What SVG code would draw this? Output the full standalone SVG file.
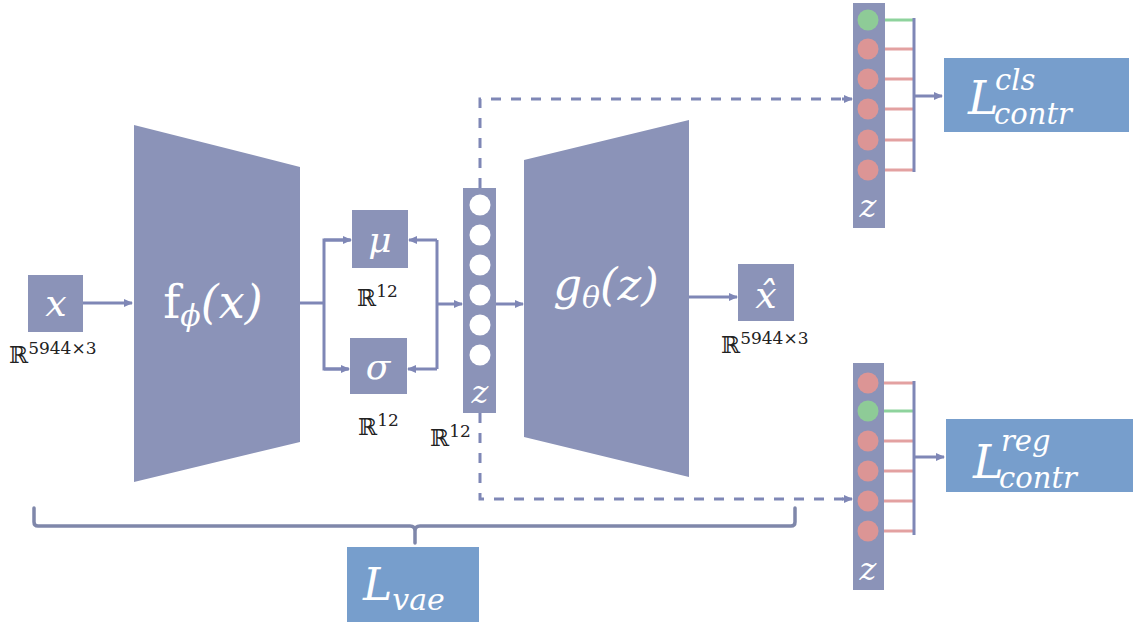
<svg xmlns="http://www.w3.org/2000/svg" width="1133" height="623" viewBox="0 0 1133 623">
<style>
.blk{fill:#8b93b8}
.loss{fill:#779ecc}
.ln{stroke:#7f87b6;stroke-width:3;fill:none}
.dash{stroke:#7f87b6;stroke-width:3;fill:none;stroke-dasharray:10 10}
.m{font-family:"DejaVu Serif","Liberation Serif",serif;font-style:italic;fill:#fff}
.r{font-family:"DejaVu Serif","Liberation Serif",serif;fill:#222}
.wc{fill:#fff}
.pk{fill:#dc9595}
.gr{fill:#8ecb97}
.pl{stroke:#e3a1a1;stroke-width:3}
.gl{stroke:#8ed39d;stroke-width:3}
</style>
<defs>
<marker id="ah" markerWidth="10" markerHeight="10" refX="8" refY="5" orient="auto" markerUnits="userSpaceOnUse">
<path d="M0,1 L9,5 L0,9 Z" fill="#7f87b6"/>
</marker>
</defs>

<g id="connectors">
<line class="ln" x1="83" y1="303" x2="132" y2="303" marker-end="url(#ah)"/>
<polyline class="ln" points="300,303 324,303"/>
<polyline class="ln" points="350,240 324,240 324,369 348,369" />
<line class="ln" x1="324" y1="240" x2="351" y2="240" marker-end="url(#ah)"/>
<line class="ln" x1="324" y1="369" x2="349" y2="369" marker-end="url(#ah)"/>
<polyline class="ln" points="437,240 437,369"/>
<line class="ln" x1="437" y1="240" x2="409" y2="240" marker-end="url(#ah)"/>
<line class="ln" x1="437" y1="369" x2="408" y2="369" marker-end="url(#ah)"/>
<line class="ln" x1="437" y1="304" x2="462" y2="304" marker-end="url(#ah)"/>
<line class="ln" x1="496" y1="304" x2="523" y2="304" marker-end="url(#ah)"/>
<line class="ln" x1="689" y1="297" x2="737" y2="297" marker-end="url(#ah)"/>
<polyline class="dash" points="480,188 480,99 843,99"/>
<line class="ln" x1="842" y1="99" x2="852" y2="99" marker-end="url(#ah)"/>
<polyline class="dash" points="480,413 480,499 843,499"/>
<line class="ln" x1="842" y1="499" x2="852" y2="499" marker-end="url(#ah)"/>
<line class="ln" x1="914" y1="96" x2="942" y2="96" marker-end="url(#ah)"/>
<line class="ln" x1="914" y1="457" x2="944" y2="457" marker-end="url(#ah)"/>
<path d="M34,508 L34,522 Q34,526 38,526 L410,526 Q415,526 415,531 L415,543 M415,531 Q415,526 420,526 L791,526 Q795,526 795,522 L795,508" stroke="#7f87aa" stroke-width="3.5" fill="none" stroke-linecap="round"/>
</g>

<g id="x">
<rect class="blk" x="28" y="275" width="55" height="57"/>
<text class="m" x="56" y="316" font-size="38" text-anchor="middle">x</text>
<text class="r" x="9" y="363" font-size="23">ℝ<tspan font-size="17" dy="-9">5944×3</tspan></text>
</g>

<g id="encoder">
<polygon class="blk" points="134,125 300,167 300,442 134,482"/>
<text class="m" x="213" y="318" font-size="46" text-anchor="middle"><tspan font-style="normal">f</tspan><tspan font-size="30" dy="8">ϕ</tspan><tspan dy="-8">(x)</tspan></text>
</g>

<g id="mu">
<rect class="blk" x="352" y="210" width="56" height="58"/>
<text class="m" x="380" y="252" font-size="36" text-anchor="middle">μ</text>
<text class="r" x="357" y="306" font-size="23">ℝ<tspan font-size="17" dy="-9">12</tspan></text>
</g>

<g id="sigma">
<rect class="blk" x="350" y="338" width="57" height="56"/>
<text class="m" x="378" y="379" font-size="36" text-anchor="middle">σ</text>
<text class="r" x="358" y="435" font-size="23">ℝ<tspan font-size="17" dy="-9">12</tspan></text>
</g>

<g id="z">
<rect class="blk" x="463" y="188" width="33" height="225"/>
<circle class="wc" cx="480" cy="205" r="10.5"/>
<circle class="wc" cx="480" cy="235" r="10.5"/>
<circle class="wc" cx="480" cy="265" r="10.5"/>
<circle class="wc" cx="480" cy="295" r="10.5"/>
<circle class="wc" cx="480" cy="325" r="10.5"/>
<circle class="wc" cx="480" cy="355" r="10.5"/>
<text class="m" x="480" y="403" font-size="32" text-anchor="middle">z</text>
<text class="r" x="430" y="446" font-size="23">ℝ<tspan font-size="17" dy="-9">12</tspan></text>
</g>

<g id="decoder">
<polygon class="blk" points="524,160 689,120 689,477 524,437"/>
<text class="m" x="606" y="300" font-size="45" text-anchor="middle">g<tspan font-size="30" dy="8">θ</tspan><tspan dy="-8">(z)</tspan></text>
</g>

<g id="xhat">
<rect class="blk" x="738" y="264" width="56" height="57"/>
<text class="m" x="766" y="308" font-size="38" text-anchor="middle">x̂</text>
<text class="r" x="721" y="353" font-size="23">ℝ<tspan font-size="17" dy="-9">5944×3</tspan></text>
</g>

<g id="zcls">
<rect class="blk" x="853" y="3" width="32" height="225"/>
<line class="gl" x1="885" y1="20" x2="914" y2="20"/>
<line class="pl" x1="885" y1="49" x2="914" y2="49"/>
<line class="pl" x1="885" y1="79" x2="914" y2="79"/>
<line class="pl" x1="885" y1="109" x2="914" y2="109"/>
<line class="pl" x1="885" y1="140" x2="914" y2="140"/>
<line class="pl" x1="885" y1="170" x2="914" y2="170"/>
<line class="ln" x1="914" y1="18" x2="914" y2="172"/>
<circle class="gr" cx="868" cy="20" r="10.5"/>
<circle class="pk" cx="868" cy="49" r="10.5"/>
<circle class="pk" cx="868" cy="79" r="10.5"/>
<circle class="pk" cx="868" cy="109" r="10.5"/>
<circle class="pk" cx="868" cy="140" r="10.5"/>
<circle class="pk" cx="868" cy="170" r="10.5"/>
<text class="m" x="868" y="217" font-size="32" text-anchor="middle">z</text>
</g>

<g id="lcls">
<rect class="loss" x="944" y="58" width="185" height="74"/>
<text class="m" x="968" y="114" font-size="46">L</text>
<text class="m" x="995" y="90" font-size="29">cls</text>
<text class="m" x="994" y="124" font-size="29">contr</text>
</g>

<g id="zreg">
<rect class="blk" x="853" y="363" width="31" height="227"/>
<line class="pl" x1="884" y1="383" x2="914" y2="383"/>
<line class="gl" x1="884" y1="411" x2="914" y2="411"/>
<line class="pl" x1="884" y1="441" x2="914" y2="441"/>
<line class="pl" x1="884" y1="471" x2="914" y2="471"/>
<line class="pl" x1="884" y1="501" x2="914" y2="501"/>
<line class="pl" x1="884" y1="531" x2="914" y2="531"/>
<line class="ln" x1="914" y1="381" x2="914" y2="535"/>
<circle class="pk" cx="868" cy="383" r="10.5"/>
<circle class="gr" cx="868" cy="411" r="10.5"/>
<circle class="pk" cx="868" cy="441" r="10.5"/>
<circle class="pk" cx="868" cy="471" r="10.5"/>
<circle class="pk" cx="868" cy="501" r="10.5"/>
<circle class="pk" cx="868" cy="531" r="10.5"/>
<text class="m" x="868" y="580" font-size="32" text-anchor="middle">z</text>
</g>

<g id="lreg">
<rect class="loss" x="946" y="419" width="187" height="73"/>
<text class="m" x="973" y="478" font-size="46">L</text>
<text class="m" x="1001" y="451" font-size="29">reg</text>
<text class="m" x="999" y="488" font-size="29">contr</text>
</g>

<g id="lvae">
<rect class="loss" x="347" y="547" width="132" height="75"/>
<text class="m" x="363" y="600" font-size="44">L<tspan font-size="30" dy="10">vae</tspan></text>
</g>
</svg>
